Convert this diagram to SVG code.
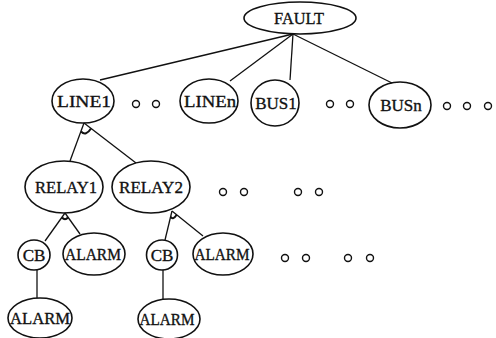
<svg xmlns="http://www.w3.org/2000/svg" width="496" height="338" viewBox="0 0 496 338">
<style>
.n{fill:none;stroke:#111;stroke-width:1.6}
.t{font-family:"Liberation Serif","DejaVu Serif",serif;font-size:17px;fill:#111;stroke:#111;stroke-width:0.35;text-anchor:middle}
.c line{stroke:#111;stroke-width:1.3}
.a{fill:none;stroke:#111;stroke-width:2}
.d{fill:none;stroke:#111;stroke-width:1.4}
</style>
<rect width="496" height="338" fill="#fff"/>
<g class="c" id="connectors">
<line x1="293" y1="34" x2="100" y2="80"/>
<line x1="293" y1="34" x2="230" y2="81"/>
<line x1="293" y1="34" x2="290" y2="80"/>
<line x1="293" y1="34" x2="392" y2="83"/>
<line x1="84" y1="123" x2="70" y2="161"/>
<line x1="84" y1="123" x2="136" y2="163"/>
<path class="a" d="M81,131.5 Q86,136.5 91,128.5"/>
<line x1="65" y1="213" x2="45" y2="241"/>
<line x1="65" y1="213" x2="80" y2="234"/>
<path class="a" d="M62,217.5 Q65,221 68,217.5"/>
<line x1="172" y1="211" x2="165" y2="240"/>
<line x1="172" y1="211" x2="203" y2="236"/>
<path class="a" d="M170.6,216.8 Q173,220.5 176.7,214.8"/>
<line x1="37" y1="270" x2="37" y2="298"/>
<line x1="163" y1="270" x2="163" y2="299"/>
</g>
<g id="FAULT"><ellipse class="n" cx="300" cy="18" rx="56" ry="16"/><text class="t" x="299" y="24" textLength="50" lengthAdjust="spacingAndGlyphs">FAULT</text></g>
<g id="LINE1"><ellipse class="n" cx="83" cy="101" rx="31" ry="22"/><text class="t" x="84" y="107" textLength="54" lengthAdjust="spacingAndGlyphs">LINE1</text></g>
<g id="LINEn"><ellipse class="n" cx="209" cy="101" rx="29" ry="22"/><text class="t" x="210" y="107" textLength="52" lengthAdjust="spacingAndGlyphs">LINEn</text></g>
<g id="BUS1"><ellipse class="n" cx="275" cy="103" rx="24" ry="23"/><text class="t" x="276" y="109">BUS1</text></g>
<g id="BUSn"><ellipse class="n" cx="400" cy="105" rx="31" ry="23"/><text class="t" x="401" y="111">BUSn</text></g>
<g id="RELAY1"><ellipse class="n" cx="64" cy="187" rx="39" ry="26"/><text class="t" x="66" y="193" textLength="62" lengthAdjust="spacingAndGlyphs">RELAY1</text></g>
<g id="RELAY2"><ellipse class="n" cx="151" cy="187" rx="39" ry="26"/><text class="t" x="151" y="193" textLength="64" lengthAdjust="spacingAndGlyphs">RELAY2</text></g>
<g id="CB1"><ellipse class="n" cx="34" cy="255" rx="16" ry="15"/><text class="t" x="34" y="261">CB</text></g>
<g id="ALARM1"><ellipse class="n" cx="94" cy="254" rx="31" ry="21"/><text class="t" x="93" y="260" textLength="56" lengthAdjust="spacingAndGlyphs">ALARM</text></g>
<g id="CB2"><ellipse class="n" cx="162" cy="255" rx="15.5" ry="15"/><text class="t" x="162" y="261">CB</text></g>
<g id="ALARM2"><ellipse class="n" cx="223" cy="254" rx="30" ry="21"/><text class="t" x="222" y="260" textLength="55" lengthAdjust="spacingAndGlyphs">ALARM</text></g>
<g id="ALARM3"><ellipse class="n" cx="40" cy="318" rx="32" ry="20"/><text class="t" x="40" y="324" textLength="60" lengthAdjust="spacingAndGlyphs">ALARM</text></g>
<g id="ALARM4"><ellipse class="n" cx="169" cy="319" rx="31" ry="20"/><text class="t" x="167" y="325" textLength="55" lengthAdjust="spacingAndGlyphs">ALARM</text></g>
<g id="dots">
<circle class="d" cx="136" cy="104" r="3.5"/><circle class="d" cx="156" cy="104" r="3.5"/>
<circle class="d" cx="330" cy="104" r="3.5"/><circle class="d" cx="350" cy="104" r="3.5"/>
<circle class="d" cx="447" cy="106" r="3.5"/><circle class="d" cx="467" cy="106" r="3.5"/><circle class="d" cx="488" cy="106" r="3.5"/>
<circle class="d" cx="223" cy="192" r="3.5"/><circle class="d" cx="244" cy="192" r="3.5"/>
<circle class="d" cx="298" cy="192" r="3.5"/><circle class="d" cx="319" cy="192" r="3.5"/>
<circle class="d" cx="285" cy="258" r="3.5"/><circle class="d" cx="306" cy="258" r="3.5"/>
<circle class="d" cx="348" cy="258" r="3.5"/><circle class="d" cx="370" cy="258" r="3.5"/>
</g>
</svg>
